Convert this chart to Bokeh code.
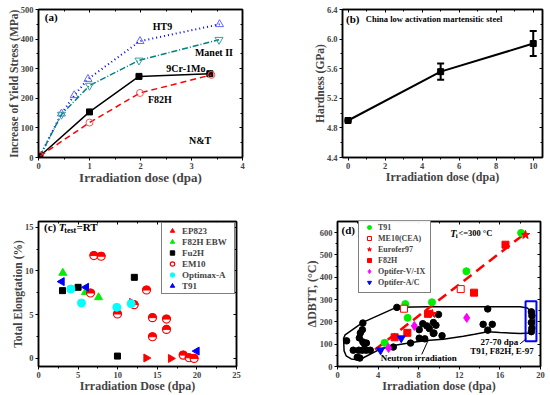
import math
from bokeh.plotting import figure
from bokeh.layouts import column, row
from bokeh.models import (Range1d, FixedTicker, LinearAxis, Legend, LegendItem,
                          Whisker, TeeHead, ColumnDataSource)
from bokeh.core.properties import value
from bokeh.embed import file_html
from bokeh.resources import INLINE

FONT = "Liberation Serif"

# ---------------- data (a) ----------------
a_ht9_x = [0.03, 0.45, 0.70, 0.97, 1.99, 3.55]
a_ht9_y = [5, 148, 210, 265, 393, 450]
a_manet_x = [0.03, 0.45, 1.00, 1.97, 3.54]
a_manet_y = [5, 145, 243, 328, 398]
a_9cr_x = [0.03, 1.00, 1.97, 3.36]
a_9cr_y = [5, 154, 274, 283]
a_f82h_x = [0.03, 1.00, 1.99, 3.39]
a_f82h_y = [5, 118, 218, 279]

# ---------------- data (b) ----------------
b_dose = [0, 5, 10]
b_hard = [4.90, 5.56, 5.94]
b_err = [0.01, 0.11, 0.17]

# ---------------- data (c) ----------------
c_ep823_x = [11.8, 13.6, 16.7]
c_ep823_y = [6.4, 0.05, 0.0]
c_f82hebw_x = [3.07, 5.93, 7.58]
c_f82hebw_y = [9.77, 7.56, 6.98]
c_fu2h_x = [3.03, 5.0, 12.1, 9.97]
c_fu2h_y = [7.75, 8.13, 9.27, 0.27]
c_em10_x = [6.99, 7.91, 6.57, 9.97, 12.08, 13.64, 14.39, 14.39, 16.16, 16.16, 18.27, 19.02, 19.65]
c_em10_y = [11.76, 11.68, 7.48, 5.08, 6.14, 7.82, 4.66, 2.48, 4.5, 3.32, 0.38, 0.08, 0.0]
c_optimax_x = [4.08, 5.43, 9.89, 11.7]
c_optimax_y = [7.94, 6.34, 5.84, 6.26]
c_t91_x = [2.95, 6.02, 19.99]
c_t91_y = [8.78, 8.13, 0.84]

# ---------------- data (d) ----------------
d_t91_x = [4.64, 6.68, 6.91, 9.31, 12.7, 18.09]
d_t91_y = [106, 280, 218, 288, 427, 599]
d_me10_x = [6.55, 12.14]
d_me10_y = [259, 347]
d_euro_x = [9.34, 18.52]
d_euro_y = [236, 590]
d_f82h_x = [5.63, 6.88, 8.91, 13.45, 16.55]
d_f82h_y = [131, 151, 236, 331, 546]
d_optv_x = [5.03, 7.57, 12.73]
d_optv_y = [83, 182, 218]
d_opta_x = [4.24, 6.28]
d_opta_y = [73, 127]
d_neut_x = [0.9, 1.55, 1.95, 2.2, 2.1, 2.45, 2.83, 3.23, 2.15, 2.25, 2.45, 2.5, 2.65, 2.85,
            2.5, 5.85, 5.5, 7.2, 8.05, 8.05, 8.4, 8.8, 9.05, 8.6, 9.7, 9.5, 9.95, 10.3,
            9.45, 9.44, 14.8, 14.35, 15.25, 14.8, 19.1, 19.15, 19.1, 19.15, 19.1]
d_neut_y = [115, 73, 42, 38, 73, 73, 73, 73, 128, 150, 165, 110, 102, 105,
            195, 265, 87, 105, 127, 165, 192, 182, 170, 124, 185, 150, 233, 138,
            197, 148, 258, 189, 189, 163, 245, 228, 197, 172, 156]
d_env_x = [0.6, 0.75, 2.5, 5.85, 9.0, 18.0, 18.7, 19.2, 19.4, 19.3, 19.0, 18.0, 16.0, 14.8,
           13.5, 12.4, 10.4, 9.1, 7.8, 5.8, 4.2, 2.5, 2.0, 1.35, 0.85, 0.65]
d_env_y = [125, 142, 198, 266, 268, 268, 262, 240, 205, 170, 150, 148, 152, 156,
           145, 136, 122, 118, 111, 96, 78, 38, 30, 34, 48, 70]
d_trend_x = [3.7, 18.5]
d_trend_y = [76, 597]
d_box_x = [18.53, 19.6]
d_box_y = [113, 293]


def make_fig(w, h, xr, yr, bl, br, bt, bb, xt, xm, yt, ym, xlabel, ylabel,
             xls="12px", yls="12px", tls="8.5px"):
    p = figure(width=w, height=h, output_backend="svg", toolbar_location=None,
               x_range=Range1d(*xr), y_range=Range1d(*yr),
               min_border_left=bl, min_border_right=br, min_border_top=bt,
               min_border_bottom=bb)
    p.xgrid.visible = False
    p.ygrid.visible = False
    p.outline_line_color = "black"
    p.outline_line_width = 1.5
    p.background_fill_color = "white"
    p.border_fill_color = "white"
    for ax, t, m, lab, ls in [(p.xaxis[0], xt, xm, xlabel, xls), (p.yaxis[0], yt, ym, ylabel, yls)]:
        ax.ticker = FixedTicker(ticks=t, minor_ticks=m)
        ax.axis_label = lab
        ax.axis_label_text_font = FONT
        ax.axis_label_text_font_style = "bold"
        ax.axis_label_text_font_size = ls
        ax.axis_label_standoff = -2
        ax.major_label_text_font = FONT
        ax.major_label_text_font_style = "bold"
        ax.major_label_text_font_size = tls
        ax.major_label_standoff = 2
        ax.major_tick_out = 3
        ax.major_tick_in = 0
        ax.minor_tick_out = 2
        ax.minor_tick_in = 0
        ax.axis_line_width = 1.5
        ax.major_tick_line_width = 1
    for side, t, m in [("above", xt, xm), ("right", yt, ym)]:
        ax = LinearAxis(ticker=FixedTicker(ticks=t, minor_ticks=m),
                        major_label_text_font_size="1px", major_label_text_color=None,
                        major_label_standoff=0,
                        major_tick_in=3, major_tick_out=0, minor_tick_in=2, minor_tick_out=0,
                        axis_line_width=1.5)
        p.add_layout(ax, side)
    return p


def txt(p, x, y, s, size="10px", align="center", style="bold", color="black"):
    p.text(x=[x], y=[y], text=[s], text_font=value(FONT), text_font_style=style,
           text_font_size=size, text_align=align, text_baseline="middle", text_color=color)


# ---------------- panel (a) ----------------
pa = make_fig(275, 195, (0, 4), (0, 500), 38, 33, 9, 38,
              [0, 1, 2, 3, 4], [0.5, 1.5, 2.5, 3.5],
              [0, 100, 200, 300, 400, 500], [50, 150, 250, 350, 450],
              "Irradiation dose (dpa)", "Increase of Yield Stress (MPa)", "13px", "11.5px")
pa.line(a_ht9_x, a_ht9_y, line_color="blue", line_width=2, line_dash="1 3")
pa.scatter(a_ht9_x, a_ht9_y, marker="triangle", size=8, fill_color=None, line_color="#6666ff")
pa.line(a_manet_x, a_manet_y, line_color="#008080", line_width=1.5, line_dash="6 2 1 2")
pa.scatter(a_manet_x, a_manet_y, marker="inverted_triangle", size=8, fill_color=None, line_color="#33a0a0")
pa.line(a_9cr_x, a_9cr_y, line_color="black", line_width=1.5)
pa.scatter(a_9cr_x, a_9cr_y, marker="square", size=6, fill_color="black", line_color="black")
pa.line(a_f82h_x, a_f82h_y, line_color="red", line_width=1.5, line_dash="6 4")
pa.scatter(a_f82h_x, a_f82h_y, marker="circle", size=7, fill_color=None, line_color="#ff5555")
txt(pa, 0.25, 476, "(a)", "11px")
txt(pa, 2.43, 443, "HT9")
txt(pa, 3.44, 356, "Manet II")
txt(pa, 2.89, 300, "9Cr-1Mo")
txt(pa, 2.38, 196, "F82H")
txt(pa, 3.17, 58, "N&T")

# ---------------- panel (b) ----------------
pb = make_fig(275, 195, (-0.3, 10.5), (4.4, 6.4), 67, 8, 6, 38,
              [0, 2, 4, 6, 8, 10], [1, 3, 5, 7, 9],
              [4.4, 4.8, 5.2, 5.6, 6.0, 6.4], [4.6, 5.0, 5.4, 5.8, 6.2],
              "Irradiation dose (dpa)", "Hardness (GPa)", "12px", "11.5px", "8.5px")
pb.yaxis[0].major_label_overrides = {4.4: "4.4", 4.8: "4.8", 5.2: "5.2", 5.6: "5.6", 6.0: "6.0", 6.4: "6.4"}
bsrc = ColumnDataSource(dict(x=b_dose, y=b_hard,
                             upper=[v + e for v, e in zip(b_hard, b_err)],
                             lower=[v - e for v, e in zip(b_hard, b_err)]))
pb.line("x", "y", source=bsrc, line_color="black", line_width=2)
pb.scatter("x", "y", source=bsrc, marker="square", size=6, fill_color="black", line_color="black")
pb.add_layout(Whisker(source=bsrc, base="x", upper="upper", lower="lower", line_width=2,
                      upper_head=TeeHead(size=7, line_width=2),
                      lower_head=TeeHead(size=7, line_width=2)))
txt(pb, 0.25, 6.27, "(b)", "11px")
txt(pb, 0.96, 6.27, "China low activation martensitic steel", "8.5px", align="left")

# ---------------- panel (c) ----------------
pc = make_fig(275, 200, (0, 25), (-0.92, 15.65), 38, 39, 26, 29,
              [0, 5, 10, 15, 20, 25], [2.5, 7.5, 12.5, 17.5, 22.5],
              [0, 5, 10, 15], [2.5, 7.5, 12.5],
              "Irradiation Dose (dpa)", "Total Elongtation (%)", "12px", "11.5px", "8.5px")
r_ep = pc.scatter(c_ep823_x, c_ep823_y, marker="triangle", angle=-math.pi / 2, size=8,
                  fill_color="red", line_color="red")
r_f8 = pc.scatter(c_f82hebw_x, c_f82hebw_y, marker="triangle", size=8,
                  fill_color="#00ee00", line_color="#00ee00")
r_fu = pc.scatter(c_fu2h_x, c_fu2h_y, marker="square", size=6, fill_color="black", line_color="black")
r_em = pc.scatter(c_em10_x, c_em10_y, marker="circle", size=8, fill_color="white", line_color="red",
                  line_width=1.2)
pc.wedge(c_em10_x, c_em10_y, radius=4, radius_units="screen", start_angle=0, end_angle=math.pi,
         fill_color="red", line_color="red")
r_op = pc.scatter(c_optimax_x, c_optimax_y, marker="circle", size=8, fill_color="cyan", line_color="cyan")
r_t9 = pc.scatter(c_t91_x, c_t91_y, marker="triangle", angle=math.pi / 2, size=8,
                  fill_color="blue", line_color="blue")
leg_c = Legend(items=[LegendItem(label="EP823", renderers=[r_ep]),
                      LegendItem(label="F82H EBW", renderers=[r_f8]),
                      LegendItem(label="Fu2H", renderers=[r_fu]),
                      LegendItem(label="EM10", renderers=[r_em]),
                      LegendItem(label="Optimax-A", renderers=[r_op]),
                      LegendItem(label="T91", renderers=[r_t9])],
               location="top_right", margin=1, padding=2, spacing=0,
               glyph_width=16, glyph_height=11, label_height=11, label_standoff=2,
               label_width=50,
               label_text_font=FONT, label_text_font_style="bold", label_text_font_size="9px",
               border_line_color="black", border_line_width=1)
pc.add_layout(leg_c)
txt(pc, 0.7, 15.0, "(c)", "11px", align="left")
txt(pc, 2.56, 15.0, "T", "11px", align="left", style="bold italic")
txt(pc, 3.25, 14.6, "test", "8px", align="left")
txt(pc, 4.8, 15.0, "=RT", "11px", align="left")

# ---------------- panel (d) ----------------
pd_ = make_fig(275, 200, (0, 20), (0, 650), 62, 10, 23, 29,
               [0, 4, 8, 12, 16, 20], [2, 6, 10, 14, 18],
               [0, 100, 200, 300, 400, 500, 600], [50, 150, 250, 350, 450, 550],
               "Irradiation dose (dpa)", "ΔDBTT, (°C)", "12px", "12px", "8.5px")
pd_.patch(d_env_x, d_env_y, fill_alpha=0, line_color="black", line_width=1.5)
pd_.scatter(d_neut_x, d_neut_y, marker="circle", size=6.5, fill_color="black", line_color="black")
pd_.line(d_trend_x, d_trend_y, line_color="red", line_width=2.5, line_dash="10 6")
pd_.rect(x=[(d_box_x[0] + d_box_x[1]) / 2], y=[(d_box_y[0] + d_box_y[1]) / 2],
         width=[d_box_x[1] - d_box_x[0]], height=[d_box_y[1] - d_box_y[0]],
         fill_alpha=0, line_color="blue", line_width=2)
d1 = pd_.scatter(d_t91_x, d_t91_y, marker="circle", size=7, fill_color="#00ee00", line_color="#00ee00")
d2 = pd_.scatter(d_me10_x, d_me10_y, marker="square", size=7, fill_color="white", line_color="red")
d3 = pd_.scatter(d_euro_x, d_euro_y, marker="star", size=9, fill_color="red", line_color="red")
d4 = pd_.scatter(d_f82h_x, d_f82h_y, marker="square", size=7, fill_color="red", line_color="red")
d5 = pd_.scatter(d_optv_x, d_optv_y, marker="diamond", size=9, fill_color="magenta", line_color="magenta")
d6 = pd_.scatter(d_opta_x, d_opta_y, marker="inverted_triangle", size=8, fill_color="blue", line_color="blue")
pd_.line([8.3, 8.9], [54, 114], line_color="black", line_width=1)
pd_.line([18.0, 18.6], [102, 124], line_color="black", line_width=1)
leg_d = Legend(items=[LegendItem(label="T91", renderers=[d1]),
                      LegendItem(label="ME10(CEA)", renderers=[d2]),
                      LegendItem(label="Eurofer97", renderers=[d3]),
                      LegendItem(label="F82H", renderers=[d4]),
                      LegendItem(label="Optifer-V/-IX", renderers=[d5]),
                      LegendItem(label="Optifer-A/C", renderers=[d6])],
               location=(21, 73), margin=0, padding=5, spacing=1,
               glyph_width=10, glyph_height=10, label_height=10, label_standoff=4,
               label_text_font=FONT, label_text_font_style="bold", label_text_font_size="8px",
               border_line_color="black", border_line_width=1)
pd_.add_layout(leg_d)
txt(pd_, 1.06, 610, "(d)", "11px")
txt(pd_, 11.1, 597, "T", "10px", align="left", style="bold italic")
txt(pd_, 11.65, 584, "i", "7px", align="left")
txt(pd_, 11.9, 597, "<=300 °C", "8.5px", align="left")
txt(pd_, 8.0, 39, "Neutron irradiation", "9px")
txt(pd_, 15.95, 109, "27-70 dpa", "9px")
txt(pd_, 16.2, 71, "T91, F82H, E-97", "9px")

layout = column(row(pa, pb), row(pc, pd_))
open("out.html", "w").write(file_html(layout, INLINE))
